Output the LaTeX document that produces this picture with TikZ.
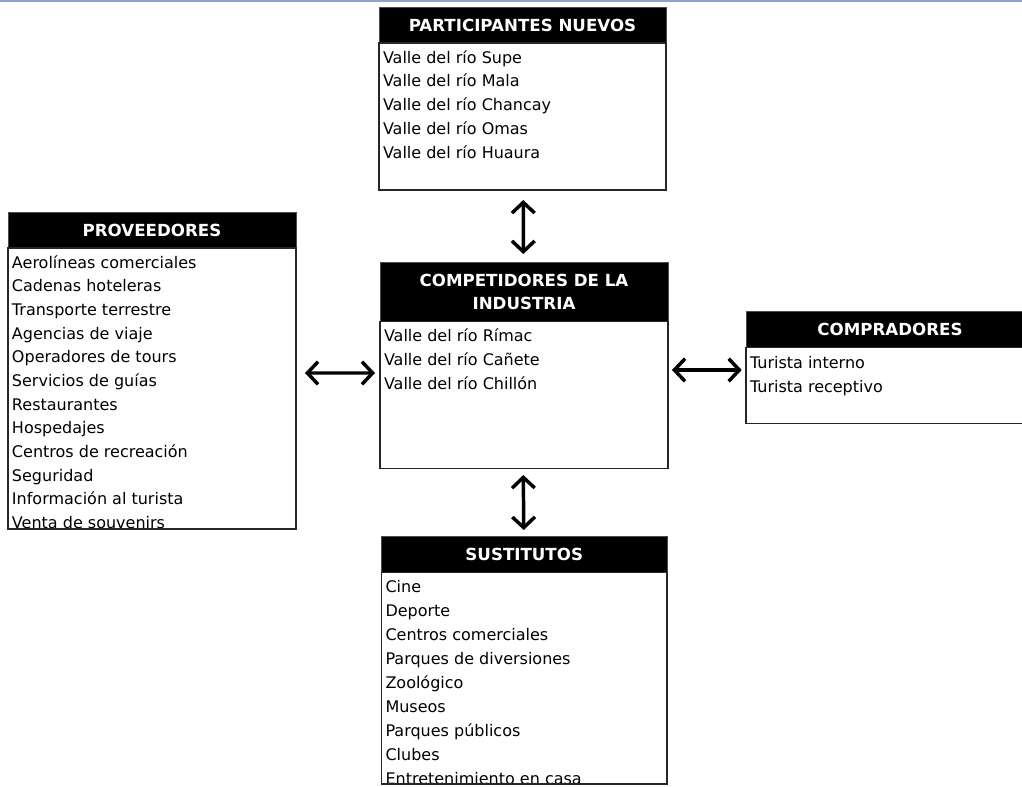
\documentclass[tikz,border=0pt]{standalone}
\usepackage{fontspec}
\setmainfont{DejaVu Sans}
\usetikzlibrary{arrows.meta,calc}
\definecolor{topline}{RGB}{140,165,200}
\def\u{0.75pt}
\tikzset{
  hdr/.style={rectangle, anchor=north west, inner sep=0pt, outer sep=0pt,
    fill=black, draw=black!70, line width=0.6pt, text=white, align=center,
    font=\bfseries\fontsize{12.5pt}{17.25pt}\selectfont},
  bodybox/.style={rectangle, anchor=north west, inner sep=0pt, outer sep=0pt,
    draw=black!85, line width=0.9pt},
  item/.style={anchor=base west, inner sep=0pt, outer sep=0pt,
    font=\fontsize{12pt}{14pt}\selectfont},
  link/.style={line width=2.6pt,
    {Straight Barb[length=8pt,width=17pt]}-{Straight Barb[length=8pt,width=17pt]}},
}
\begin{document}
\begin{tikzpicture}[x=0.75pt,y=-0.75pt]
\clip (0,0) rectangle (1022,787);
\fill[white] (0,0) rectangle (1022,787);
\fill[topline] (0,0) rectangle (1022,1.6);

% Participantes nuevos
\node[hdr, minimum width={287*\u}, minimum height={36*\u}] (phead) at (379,7) {PARTICIPANTES NUEVOS};
\node[bodybox, minimum width={287*\u}, minimum height={147*\u}] (pbody) at (379,43) {};
\foreach \t [count=\i] in {Valle del río Supe, Valle del río Mala, Valle del río Chancay, Valle del río Omas, Valle del río Huaura}
  \node[item] (pitem\i) at ($(pbody.north west)+(4,{20.3+(\i-1)*23.7})$) {\t};

% Proveedores
\node[hdr, minimum width={288*\u}, minimum height={36*\u}] (vhead) at (8,212) {PROVEEDORES};
\node[bodybox, minimum width={288*\u}, minimum height={281*\u}] (vbody) at (8,248) {};
\begin{scope}
  \clip (vbody.north west) rectangle (vbody.south east);
  \foreach \t [count=\i] in {Aerolíneas comerciales, Cadenas hoteleras, Transporte terrestre, Agencias de viaje, Operadores de tours, Servicios de guías, Restaurantes, Hospedajes, Centros de recreación, Seguridad, Información al turista, Venta de souvenirs}
    \node[item] (vitem\i) at ($(vbody.north west)+(4,{20.3+(\i-1)*23.65})$) {\t};
\end{scope}
\draw[black!85, line width=0.9pt] (vbody.north west) rectangle (vbody.south east);

% Competidores de la industria
\node[hdr, minimum width={288*\u}, minimum height={59*\u}] (chead) at (380,262.7) {COMPETIDORES DE LA\\INDUSTRIA};
\node[bodybox, minimum width={288*\u}, minimum height={146.6*\u}] (cbody) at (380,321.7) {};
\foreach \t [count=\i] in {Valle del río Rímac, Valle del río Cañete, Valle del río Chillón}
  \node[item] (citem\i) at ($(cbody.north west)+(4,{20.0+(\i-1)*23.7})$) {\t};

% Compradores
\node[hdr, minimum width={288*\u}, minimum height={36*\u}] (bhead) at (746,311.7) {COMPRADORES};
\node[bodybox, minimum width={288*\u}, minimum height={75.6*\u}] (bbody) at (746,347.7) {};
\foreach \t [count=\i] in {Turista interno, Turista receptivo}
  \node[item] (bitem\i) at ($(bbody.north west)+(4,{20.8+(\i-1)*23.7})$) {\t};

% Sustitutos
\node[hdr, minimum width={285.5*\u}, minimum height={35.6*\u}] (shead) at (381.5,536.7) {SUSTITUTOS};
\node[bodybox, minimum width={285.5*\u}, minimum height={211.7*\u}] (sbody) at (381.5,572.3) {};
\begin{scope}
  \clip (sbody.north west) rectangle (sbody.south east);
  \foreach \t [count=\i] in {Cine, Deporte, Centros comerciales, Parques de diversiones, Zoológico, Museos, Parques públicos, Clubes, Entretenimiento en casa}
    \node[item] (sitem\i) at ($(sbody.north west)+(4,{20.0+(\i-1)*24.0})$) {\t};
\end{scope}
\draw[black!85, line width=0.9pt] (sbody.north west) rectangle (sbody.south east);

% Connectors
\draw[link] ($(pbody.south)+(0.8,10)$) -- ($(chead.north)+(-0.7,-8.7)$);
\draw[link] ($(cbody.south)+(-0.7,6.7)$) -- ($(shead.north)+(-0.5,-6.7)$);
\draw[link] ($(vbody.north east)+(9,125)$) -- ($(cbody.north west)+(-5,51.3)$);
\draw[link] ($(cbody.north east)+(4,48.3)$) -- ($(bbody.north west)+(-4.3,22.3)$);
\end{tikzpicture}
\end{document}
